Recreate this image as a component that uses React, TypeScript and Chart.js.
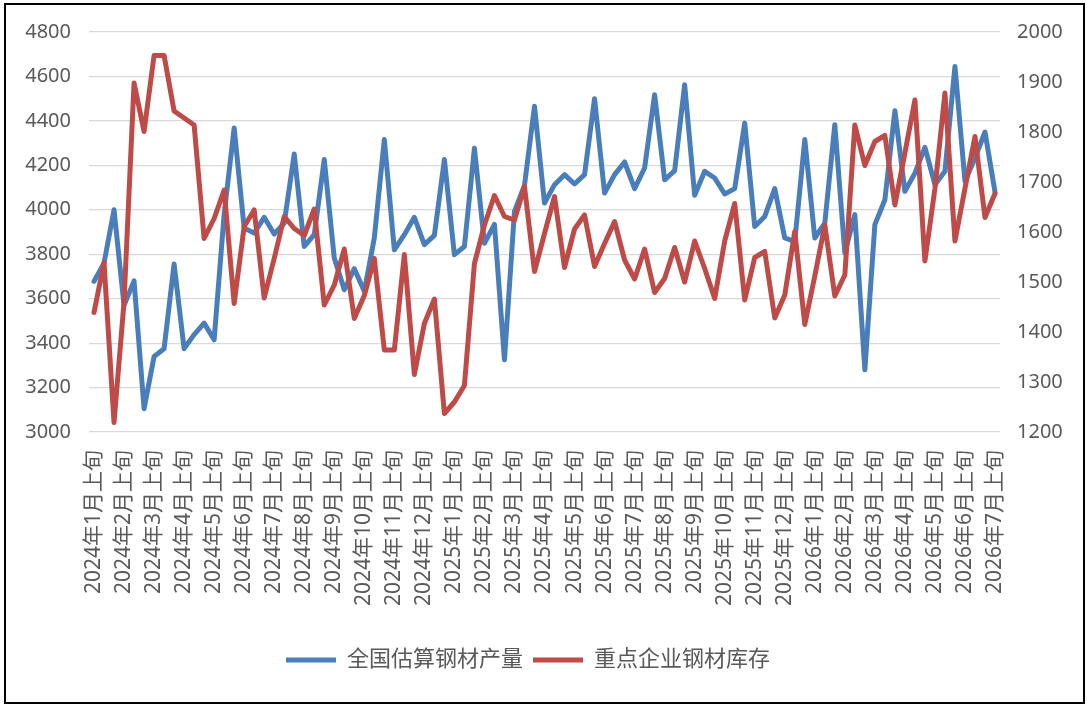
import { useEffect, useRef } from "react";
import { Chart, registerables, ChartOptions, ChartData } from "chart.js";

Chart.register(...registerables);

const months = [
  "2024年1月", "2024年2月", "2024年3月", "2024年4月", "2024年5月", "2024年6月",
  "2024年7月", "2024年8月", "2024年9月", "2024年10月", "2024年11月", "2024年12月",
  "2025年1月", "2025年2月", "2025年3月", "2025年4月", "2025年5月", "2025年6月",
  "2025年7月", "2025年8月", "2025年9月", "2025年10月", "2025年11月", "2025年12月",
  "2026年1月", "2026年2月", "2026年3月", "2026年4月", "2026年5月", "2026年6月",
  "2026年7月",
];
const periods = ["上旬", "中旬", "下旬"];
// 2024年1月上旬 ... 2026年7月上旬
const labels = months.flatMap((m) => periods.map((p) => m + p)).slice(0, 91);

// 全国估算钢材产量 (left axis)
const output = [
  3678, 3760, 4000, 3570, 3680, 3105, 3340, 3375, 3756, 3375,
  3438, 3490, 3415, 3980, 4368, 3918, 3895, 3966, 3891, 3940,
  4251, 3835, 3888, 4226, 3783, 3640, 3735, 3633, 3873, 4316,
  3820, 3888, 3966, 3843, 3885, 4226, 3798, 3835, 4277, 3849,
  3934, 3325, 3993, 4110, 4466, 4030, 4113, 4158, 4116, 4158,
  4500, 4075, 4158, 4215, 4095, 4188, 4518, 4135, 4176, 4563,
  4065, 4173, 4143, 4071, 4095, 4390, 3925, 3970, 4095, 3873,
  3858, 4316, 3873, 3940, 4383, 3806, 3978, 3280, 3933, 4045,
  4446, 4083, 4165, 4281, 4113, 4173, 4645, 4128, 4233, 4350,
  4080,
];

// 重点企业钢材库存 (right axis)
const inventory = [
  1439, 1539, 1219, 1460, 1898, 1801, 1953, 1953, 1842, 1828,
  1814, 1587, 1627, 1684, 1457, 1611, 1644, 1468, 1547, 1631,
  1607, 1593, 1646, 1454, 1494, 1566, 1427, 1473, 1547, 1364,
  1364, 1555, 1315, 1417, 1466, 1237, 1260, 1293, 1537, 1614,
  1673, 1631, 1624, 1691, 1521, 1597, 1671, 1529, 1606, 1634,
  1531, 1577, 1621, 1544, 1506, 1566, 1479, 1507, 1569, 1500,
  1582, 1527, 1467, 1582, 1657, 1464, 1549, 1561, 1428, 1474,
  1601, 1415, 1512, 1614, 1472, 1514, 1814, 1733, 1781, 1793,
  1654, 1758, 1864, 1542, 1687, 1878, 1582, 1687, 1791, 1629,
  1677,
];

const FONT = "'Noto Sans', 'Noto Sans CJK SC', sans-serif";
const TEXT = "#595959";

export default function App() {
  const canvasRef = useRef<HTMLCanvasElement>(null);

  useEffect(() => {
    if (!canvasRef.current) return;

    // red first so it is drawn on top; legend reversed to keep blue first
    const data: ChartData<"line"> = {
      labels,
      datasets: [
        {
          label: "重点企业钢材库存",
          data: inventory,
          yAxisID: "y1",
          borderColor: "#BE4B48",
          backgroundColor: "#BE4B48",
          borderWidth: 5,
          borderCapStyle: "round",
          borderJoinStyle: "round",
          pointRadius: 0,
          tension: 0,
        },
        {
          label: "全国估算钢材产量",
          data: output,
          yAxisID: "y",
          borderColor: "#4A7EBB",
          backgroundColor: "#4A7EBB",
          borderWidth: 5,
          borderCapStyle: "round",
          borderJoinStyle: "round",
          pointRadius: 0,
          tension: 0,
        },
      ],
    };

    const options: ChartOptions<"line"> = {
      responsive: false,
      animation: false,
      // negative left padding shifts the centred legend to where the original has it
      layout: { padding: { top: 32, left: -31, right: 0, bottom: 26 } },
      plugins: {
        legend: {
          position: "bottom",
          reverse: true,
          labels: {
            usePointStyle: true,
            pointStyle: "line",
            pointStyleWidth: 50,
            padding: 10,
            color: TEXT,
            font: { family: FONT, size: 22 },
          },
        },
        tooltip: { enabled: false },
      },
      scales: {
        x: {
          offset: true,
          grid: { display: false, drawTicks: false },
          border: { display: false },
          ticks: {
            autoSkip: false,
            minRotation: 90,
            maxRotation: 90,
            padding: 18,
            color: TEXT,
            font: { family: FONT, size: 21 },
            callback: function (value, index) {
              return index % 3 === 0 ? this.getLabelForValue(value as number) : "";
            },
          },
          afterFit: (scale) => {
            scale.height = 207;
          },
        },
        y: {
          position: "left",
          min: 3000,
          max: 4800,
          ticks: {
            stepSize: 200,
            padding: 18,
            color: TEXT,
            font: { family: FONT, size: 20 },
            callback: (value) => String(value),
          },
          grid: { color: "#D9D9D9", lineWidth: 1.2, drawTicks: false },
          border: { display: false },
          afterFit: (scale) => {
            scale.width = 120;
          },
        },
        y1: {
          position: "right",
          min: 1200,
          max: 2000,
          ticks: {
            stepSize: 100,
            padding: 17,
            color: TEXT,
            font: { family: FONT, size: 20 },
            callback: (value) => String(value),
          },
          grid: { drawOnChartArea: false, drawTicks: false },
          border: { display: false },
          afterFit: (scale) => {
            scale.width = 87;
          },
        },
      },
    };

    const chart = new Chart(canvasRef.current, { type: "line", data, options });

    return () => {
      chart.destroy();
    };
  }, []);

  return (
    <div
      style={{
        position: "fixed",
        left: 0,
        top: 0,
        width: 1087,
        height: 707,
        background: "#fff",
      }}
    >
      <canvas ref={canvasRef} width={1087} height={707} style={{ display: "block" }} />
      <div
        style={{
          position: "absolute",
          left: 4,
          top: 3,
          width: 1081,
          height: 701,
          border: "2px solid #000",
          boxSizing: "border-box",
          pointerEvents: "none",
        }}
      />
    </div>
  );
}
